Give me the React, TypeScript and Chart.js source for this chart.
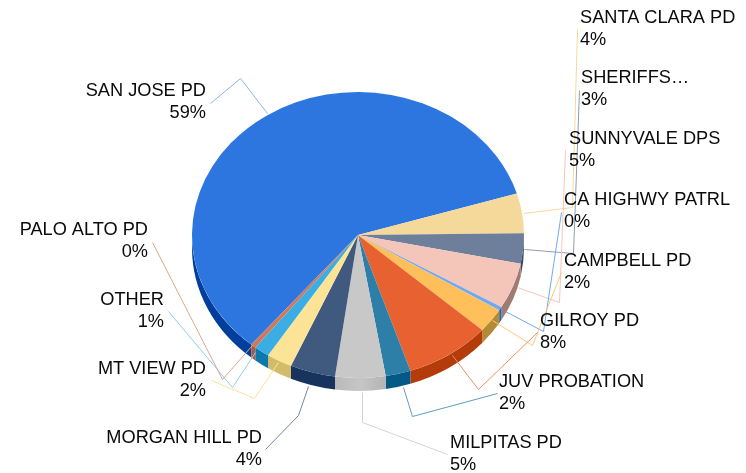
import React, { useEffect, useRef } from "react";
import { Chart, registerables } from "chart.js";

Chart.register(...registerables);

const categories = ["SAN JOSE PD", "SANTA CLARA PD", "SHERIFFS…", "SUNNYVALE DPS", "CA HIGHWY PATRL", "CAMPBELL PD", "GILROY PD", "JUV PROBATION", "MILPITAS PD", "MORGAN HILL PD", "MT VIEW PD", "OTHER", "PALO ALTO PD"];
const values = [59.2, 4.5, 3.4, 5.2, 0.4, 2.74, 8.34, 2.44, 4.88, 4.4, 2.5, 1.5, 0.5];
const percentLabels = ["59%", "4%", "3%", "5%", "0%", "2%", "8%", "2%", "5%", "4%", "2%", "1%", "0%"];
const faceColors = ["#2D76E0", "#F5D99B", "#6D7F9B", "#F4C6B9", "#6FA8F4", "#FFC05C", "#E86231", "#2E7FA8", "#C8C8C8", "#40597F", "#FDE396", "#3AAEE4", "#C97B62"];
const wallColors = ["#00409C", "#C8A96D", "#3A4A62", "#A07B71", "#1E62B8", "#B38A35", "#B43C0A", "#005A85", "#B8B8B8", "#17335E", "#D2BC6B", "#0B78AE", "#AB5A3C"];
const lineColors = ["#8AB4F0", "#F5D99B", "#8E9BB3", "#F4C6B9", "#6FA8F4", "#FFC878", "#EE8C68", "#5E9DBE", "#D4D4D4", "#7386A8", "#FDE396", "#8CCDEE", "#E0A48E"];

// x, first baseline, alignment of each label
const labelPlaces: [number, number, CanvasTextAlign][] = [
  [206, 96, "right"], [580, 23, "left"], [581, 83, "left"], [569, 144, "left"], [564, 205, "left"], [564, 266, "left"], [540, 326, "left"],
  [499, 387, "left"], [450, 448, "left"], [262, 443, "right"], [206, 374, "right"], [164, 305, "right"], [148, 235, "right"],
];
// leader polylines, label end to pie end
const leaders: number[][][] = [
  [[210, 103], [240, 78], [267, 113]],
  [[577, 29], [572, 207], [523, 213]],
  [[579, 90], [573, 253], [524, 249]],
  [[565, 150], [559, 302], [517, 287]],
  [[561, 212], [543, 331], [505, 311]],
  [[561, 272], [532, 345], [492, 320]],
  [[537, 332], [478, 389], [452, 355]],
  [[497, 393], [412, 416], [403, 387]],
  [[447, 454], [362, 422], [362, 392]],
  [[265, 449], [298, 415], [308, 386]],
  [[211, 380], [254, 398], [278, 362]],
  [[168, 311], [232, 387], [255, 352]],
  [[152, 242], [222, 379], [252, 345]],
];

const SQUASH = 143 / 166;
const DEPTH = 13;

const piePlugin = {
  id: "tiltedPie",
  beforeDatasetsDraw(chart: any) {
    const ctx = chart.ctx;
    const arcs = chart.getDatasetMeta(0).data;
    const { x: cx, y: cy, outerRadius: r } = arcs[0];
    const ry = r * SQUASH;
    ctx.save();
    arcs.forEach((arc: any, i: number) => {
      // only the part of a slice that faces the viewer (0..PI) has a wall
      const twoPi = Math.PI * 2;
      const a0 = arc.startAngle;
      const a1 = arc.endAngle;
      for (const shift of [-twoPi, 0, twoPi]) {
        const s = Math.max(a0 + shift, 0);
        const e = Math.min(a1 + shift, Math.PI);
        if (e <= s) continue;
        ctx.beginPath();
        ctx.ellipse(cx, cy, r, ry, 0, s, e);
        ctx.ellipse(cx, cy + DEPTH, r, ry, 0, e, s, true);
        ctx.closePath();
        if (i === 8) {
          const g = ctx.createLinearGradient(cx - 25, 0, cx + 30, 0);
          g.addColorStop(0, "#B8B8B8");
          g.addColorStop(0.5, "#C6C6C6");
          g.addColorStop(1, "#B2B2B2");
          ctx.fillStyle = g;
        } else {
          ctx.fillStyle = wallColors[i];
        }
        ctx.fill();
      }
    });
    ctx.translate(cx, cy);
    ctx.scale(1, SQUASH);
    ctx.translate(-cx, -cy);
  },
  afterDatasetsDraw(chart: any) {
    const ctx = chart.ctx;
    ctx.restore();
    ctx.save();
    ctx.lineWidth = 1;
    leaders.forEach((pts, i) => {
      ctx.strokeStyle = lineColors[i];
      ctx.beginPath();
      pts.forEach(([x, y], k) => (k ? ctx.lineTo(x + 0.5, y + 0.5) : ctx.moveTo(x + 0.5, y + 0.5)));
      ctx.stroke();
    });
    ctx.font = '18.2px "Liberation Sans"';
    ctx.fillStyle = "#0A0A0A";
    ctx.textBaseline = "alphabetic";
    categories.forEach((name, i) => {
      const [x, y, align] = labelPlaces[i];
      ctx.textAlign = align;
      ctx.fillText(name, x, y);
      ctx.fillText(percentLabels[i], x, y + 22);
    });
    ctx.restore();
  },
};

export default function App() {
  const ref = useRef<HTMLCanvasElement>(null);
  useEffect(() => {
    const chart = new Chart(ref.current!, {
      type: "pie",
      data: {
        labels: categories,
        datasets: [{ data: values, backgroundColor: faceColors, borderWidth: 0, hoverOffset: 0 }],
      },
      options: {
        responsive: false,
        animation: false,
        rotation: 220,
        layout: { padding: { left: 192, right: 222, top: 69, bottom: 72 } },
        plugins: { legend: { display: false }, tooltip: { enabled: false } },
      },
      plugins: [piePlugin],
    } as any);
    return () => chart.destroy();
  }, []);
  return (
    <div style={{ position: "fixed", left: 0, top: 0, width: 746, height: 473, background: "#fff" }}>
      <canvas ref={ref} width={746} height={473} style={{ display: "block" }} />
    </div>
  );
}
